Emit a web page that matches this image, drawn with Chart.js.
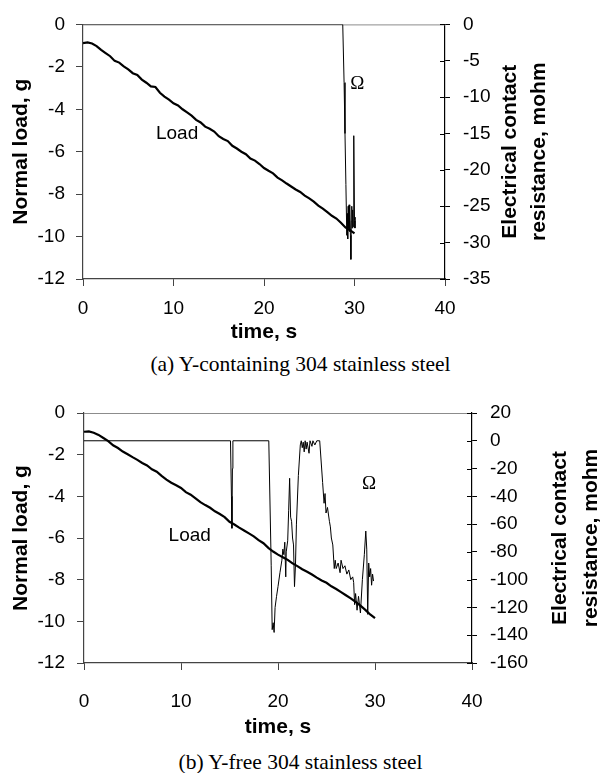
<!DOCTYPE html>
<html lang="en">
<head>
<meta charset="UTF-8">
<title>Normal load and contact resistance vs time</title>
<script src="https://cdn.jsdelivr.net/npm/chart.js"></script>
<style>
    body {
        margin: 0;
        background: #fff;
        width: 601px;
        height: 773px;
        position: relative;
        overflow: hidden;
    }

    .box {
        position: absolute;
        left: 0;
        width: 601px;
    }

    .caption {
        position: absolute;
        left: 0;
        width: 601px;
        text-align: center;
        font-family: "Liberation Serif", "Times New Roman", serif;
        font-size: 21.5px;
        line-height: 24px;
        color: #000;
    }
</style>
</head>
<body>
<div class="box" style="top:0;height:345px"><canvas id="chartA"></canvas></div>
<div class="caption" style="top:352px">(a) Y-containing 304 stainless steel</div>
<div class="box" style="top:385px;height:355px"><canvas id="chartB"></canvas></div>
<div class="caption" style="top:750px">(b) Y-free 304 stainless steel</div>

<script>
    // sample times of the load traces, s
    const loadTime = [0, 0.5, 1, 1.5, 2, 2.5, 3, 3.5, 4, 4.5, 5, 5.5, 6, 6.5, 7, 7.5, 8, 8.5, 9, 9.5,
        10, 10.5, 11, 11.5, 12, 12.5, 13, 13.5, 14, 14.5, 15, 15.5, 16, 16.5, 17, 17.5, 18, 18.5, 19, 19.5,
        20, 20.5, 21, 21.5, 22, 22.5, 23, 23.5, 24, 24.5, 25, 25.5, 26, 26.5, 27, 27.5, 28, 28.5, 29, 29.5, 30];

    // (a) Y-containing 304: normal load, g
    const loadA = [-0.88, -0.85, -0.9, -1.02, -1.2, -1.35, -1.5, -1.72, -1.8, -1.98,
        -2.12, -2.3, -2.38, -2.6, -2.75, -2.92, -2.95, -3.22, -3.4, -3.55,
        -3.72, -3.82, -4.0, -4.15, -4.3, -4.5, -4.62, -4.82, -4.92, -5.05,
        -5.27, -5.4, -5.5, -5.72, -5.85, -6.0, -6.12, -6.32, -6.42, -6.58,
        -6.77, -6.9, -7.02, -7.22, -7.35, -7.5, -7.64, -7.78, -7.9, -8.07,
        -8.2, -8.35, -8.54, -8.68, -8.85, -9.02, -9.15, -9.35, -9.57, -9.7, -9.85];

    // (a) contact resistance, mohm
    const ohmTimeA = [0, 28.7, 28.85, 28.95, 29.05, 29.15, 29.2, 29.25, 29.3, 29.35, 29.4, 29.45,
        29.5, 29.55, 29.6, 29.65, 29.7, 29.75, 29.8, 29.85, 29.9, 29.94, 30.0, 30.05, 30.1];
    const ohmA = [0, 0, -8, -15, -22, -29, -26, -29.5, -25, -28, -24.8, -28.5,
        -25.5, -29, -32.3, -27, -25, -28, -25.5, -27.8, -24.8, -15.3, -27, -28, -26.5];

    // (b) Y-free 304: normal load, g
    const loadB = [-0.9, -0.88, -0.95, -1.05, -1.2, -1.35, -1.55, -1.68, -1.85, -1.98,
        -2.12, -2.25, -2.4, -2.52, -2.7, -2.82, -3.02, -3.2, -3.35, -3.47,
        -3.6, -3.8, -3.92, -4.1, -4.28, -4.42, -4.55, -4.72, -4.85, -5.0,
        -5.22, -5.35, -5.5, -5.64, -5.78, -5.92, -6.1, -6.25, -6.47, -6.65,
        -6.8, -6.92, -7.05, -7.22, -7.35, -7.5, -7.62, -7.75, -7.9, -8.04,
        -8.15, -8.32, -8.45, -8.6, -8.75, -8.9, -9.07, -9.25, -9.45, -9.67, -9.85];

    // (b) contact resistance, mohm
    const ohmTimeB = [0, 15.1, 15.2, 15.25, 15.3, 15.35, 19.05, 19.3, 19.4, 19.5, 19.6, 19.7, 19.85,
        20.0, 20.2, 20.4, 20.5, 20.6, 20.7, 20.8, 20.85, 21.0, 21.1, 21.2, 21.3, 21.4, 21.5, 21.6,
        21.7, 21.8, 21.9, 22.1, 22.3, 22.4, 22.5, 22.6, 22.7, 22.8, 22.9, 23.0, 23.2, 23.3, 23.5,
        23.6, 23.8, 24.0, 24.3, 24.6, 24.75, 24.85, 24.95, 25.1, 25.3, 25.4, 25.5, 25.65, 25.8,
        25.9, 26.0, 26.2, 26.4, 26.5, 26.7, 26.9, 27.1, 27.3, 27.5, 27.7, 27.8, 27.9, 28.0, 28.15,
        28.3, 28.5, 28.7, 28.9, 29.05, 29.15, 29.25, 29.35, 29.45, 29.55, 29.65, 29.75, 29.85];
    const ohmB = [0, 0, -40, -63, -20, 0, 0, -90, -136, -131, -138, -120, -112,
        -105, -95, -86, -78, -82, -73, -98, -80, -72, -50, -27, -55, -58, -70, -75,
        -105, -90, -60, -25, -3, 0, -5, -1, -8, 0, -6, -1, -9, 0, -4,
        0, -3, 0, 0, -30, -45, -38, -52, -48, -58, -62, -70, -75, -92,
        -86, -92, -88, -95, -86, -92, -90, -96, -93, -100, -98, -102, -118, -110, -122,
        -112, -124, -100, -82, -65, -78, -125, -88, -98, -92, -104, -96, -101];

    // tick values
    const timeTicks = [0, 10, 20, 30, 40];
    const loadTicks = [0, -2, -4, -6, -8, -10, -12];
    const ohmTicksA = [0, -5, -10, -15, -20, -25, -30, -35];
    const ohmTicksB = [20, 0, -20, -40, -60, -80, -100, -120, -140, -160];

    const FONT = '"Liberation Sans", Arial, sans-serif';
    Chart.defaults.font.family = FONT;
    Chart.defaults.color = '#000';

    function pairs(xs, ys) {
        return xs.map((x, i) => ({ x: x, y: ys[i] }));
    }

    function useTicks(values) {
        return scale => { scale.ticks = values.map(v => ({ value: v })); };
    }

    // top frame line, inner right ticks, right title and the in-plot labels
    const extras = {
        id: 'extras',
        beforeDatasetsDraw(chart) {
            const ctx = chart.ctx;
            const a = chart.chartArea;
            const yR = chart.scales.yR;
            ctx.save();
            ctx.lineWidth = 1;
            ctx.strokeStyle = '#8c8c8c';
            ctx.beginPath();
            ctx.moveTo(a.left, a.top + 0.5);
            ctx.lineTo(a.right, a.top + 0.5);
            ctx.stroke();
            ctx.strokeStyle = '#000';
            yR.ticks.forEach(t => {
                const py = Math.round(yR.getPixelForValue(t.value)) + 0.5;
                ctx.beginPath();
                ctx.moveTo(a.right - 5, py);
                ctx.lineTo(a.right, py);
                ctx.stroke();
            });
            ctx.restore();
        },
        afterDraw(chart, args, opts) {
            const ctx = chart.ctx;
            const a = chart.chartArea;
            ctx.save();
            ctx.fillStyle = '#000';
            ctx.textAlign = 'center';
            ctx.textBaseline = 'middle';
            opts.notes.forEach(n => {
                const px = chart.scales.x.getPixelForValue(n.x);
                const py = chart.scales[n.axis].getPixelForValue(n.y);
                ctx.font = n.font;
                ctx.fillText(n.text, px, py);
            });
            ctx.font = 'bold 21px ' + FONT;
            const cy = (a.top + a.bottom) / 2;
            opts.rightTitle.forEach((line, i) => {
                ctx.save();
                ctx.translate(opts.rightTitleX[i], cy);
                ctx.rotate(-Math.PI / 2);
                ctx.fillText(line, 0, 0);
                ctx.restore();
            });
            ctx.restore();
        }
    };

    function buildChart(id, o) {
        return new Chart(document.getElementById(id), {
            type: 'line',
            data: {
                datasets: [
                    {
                        label: 'Load',
                        data: pairs(loadTime, o.load),
                        yAxisID: 'y',
                        borderColor: '#000',
                        borderWidth: 2.2,
                        pointRadius: 0,
                        tension: 0
                    },
                    {
                        label: 'Ω',
                        data: pairs(o.ohmTime, o.ohm),
                        yAxisID: 'yR',
                        borderColor: '#000',
                        borderWidth: 1,
                        pointRadius: 0,
                        tension: 0
                    }
                ]
            },
            options: {
                responsive: true,
                maintainAspectRatio: false,
                animation: false,
                layout: { padding: { top: o.padTop, left: 0, right: 0, bottom: 0 } },
                plugins: {
                    legend: { display: false },
                    tooltip: { enabled: false },
                    extras: {
                        notes: o.notes,
                        rightTitle: ['Electrical contact', 'resistance, mohm'],
                        rightTitleX: o.rightTitleX
                    }
                },
                scales: {
                    x: {
                        type: 'linear',
                        min: 0,
                        max: 40,
                        afterBuildTicks: useTicks(timeTicks),
                        afterFit: s => { s.height = o.bottomH; },
                        ticks: { font: { size: 19 }, padding: o.xPad, maxRotation: 0 },
                        grid: { drawOnChartArea: false, tickLength: 7, color: '#444' },
                        border: { color: '#444', width: 1.2 },
                        title: {
                            display: true,
                            text: 'time, s',
                            font: { size: 21, weight: 'bold' },
                            padding: { top: 0, bottom: 0 }
                        }
                    },
                    y: {
                        position: 'left',
                        min: -12,
                        max: 0,
                        afterBuildTicks: useTicks(loadTicks),
                        afterFit: s => { s.width = o.leftW; },
                        ticks: { font: { size: 19 }, padding: o.leftPad },
                        grid: { drawOnChartArea: false, tickLength: 7, color: '#444' },
                        border: { color: '#444', width: 1.2 },
                        title: {
                            display: true,
                            text: 'Normal load, g',
                            font: { size: 21, weight: 'bold' },
                            padding: { top: 9, bottom: 0 }
                        }
                    },
                    yR: {
                        position: 'right',
                        min: o.ohmMin,
                        max: o.ohmMax,
                        afterBuildTicks: useTicks(o.ohmTicks),
                        afterFit: s => { s.width = o.rightW; },
                        ticks: { font: { size: 19 }, padding: 13 },
                        grid: { drawOnChartArea: false, tickLength: 5, color: '#000' },
                        border: { color: '#000', width: 1.2 }
                    }
                }
            },
            plugins: [extras]
        });
    }

    buildChart('chartA', {
        load: loadA,
        ohmTime: ohmTimeA,
        ohm: ohmA,
        ohmMin: -35,
        ohmMax: 0,
        ohmTicks: ohmTicksA,
        padTop: 23,
        bottomH: 66,
        xPad: 11,
        leftW: 83,
        leftPad: 11,
        rightW: 156,
        rightTitleX: [510, 539],
        notes: [
            { text: 'Load', x: 10.4, y: -5.16, axis: 'y', font: '19px ' + FONT },
            { text: 'Ω', x: 30.3, y: -8.2, axis: 'yR', font: '19px "Liberation Serif", serif' }
        ]
    });

    buildChart('chartB', {
        load: loadB,
        ohmTime: ohmTimeB,
        ohm: ohmB,
        ohmMin: -160,
        ohmMax: 20,
        ohmTicks: ohmTicksB,
        padTop: 28,
        bottomH: 77,
        xPad: 20,
        leftW: 84,
        leftPad: 12,
        rightW: 129,
        rightTitleX: [560, 591],
        notes: [
            { text: 'Load', x: 10.9, y: -5.9, axis: 'y', font: '19px ' + FONT },
            { text: 'Ω', x: 29.4, y: -31, axis: 'yR', font: '19px "Liberation Serif", serif' }
        ]
    });
</script>
</body>
</html>
